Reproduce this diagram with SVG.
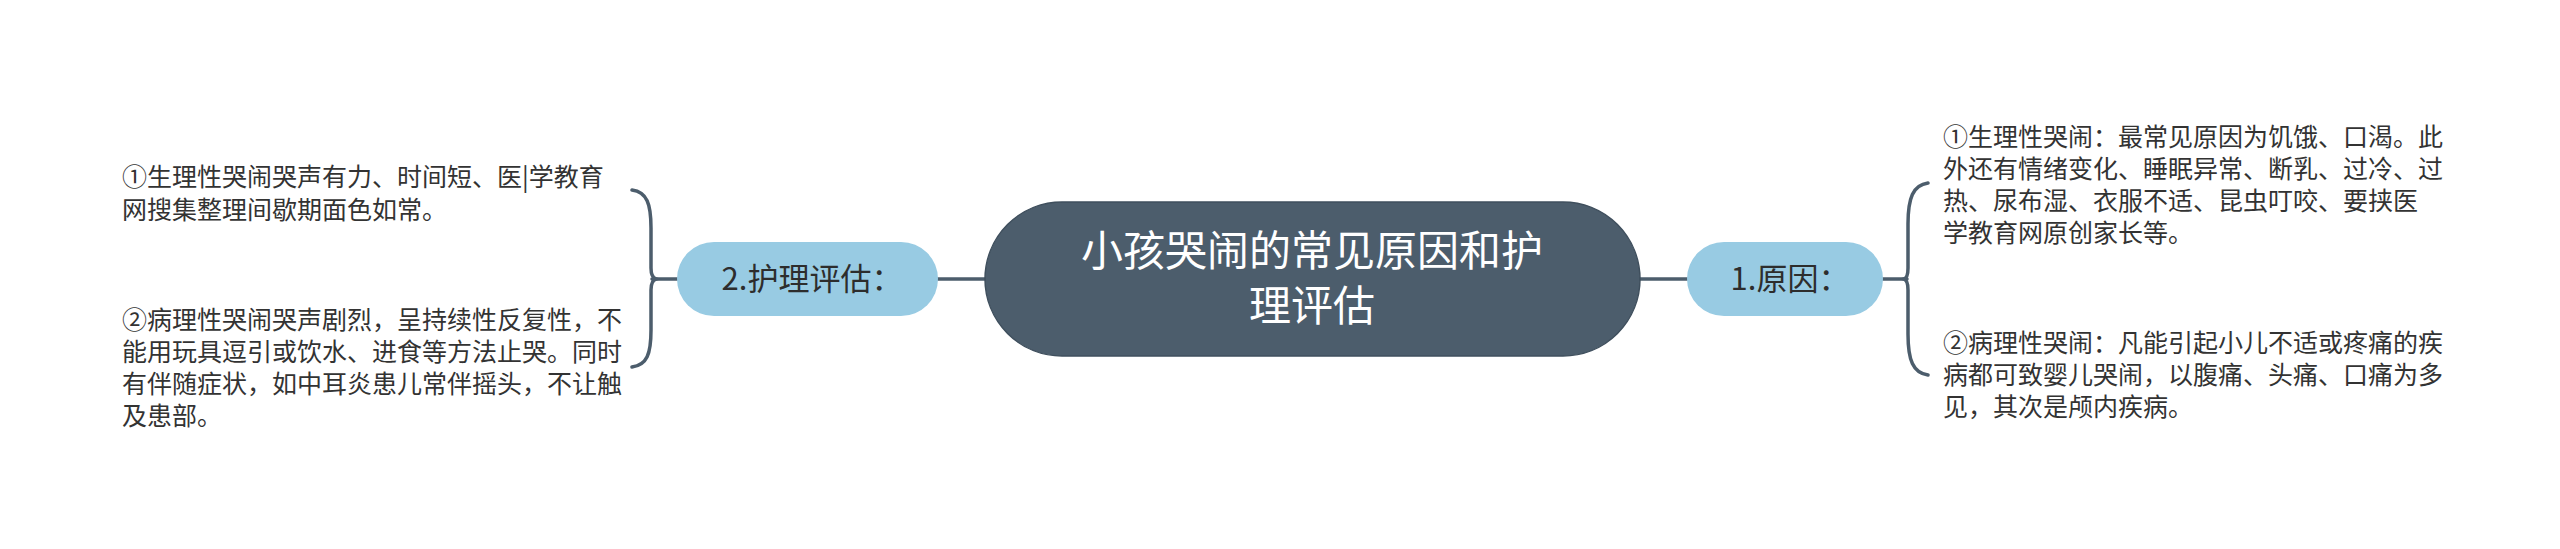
<svg xmlns="http://www.w3.org/2000/svg" width="2560" height="549" viewBox="0 0 2560 549">
<style>
text{font-family:"Noto Sans CJK SC","Noto Sans",sans-serif;}
.leaf{font-size:25px;fill:#333333;}
.pill{fill:#98cbe3;}
.pilltext{font-size:31px;fill:#2d2d2d;text-anchor:middle;}
.root{fill:#4c5d6c;stroke:#3f4f5d;stroke-width:1.5;}
.roottext{font-size:42px;fill:#ffffff;text-anchor:middle;}
.conn{fill:none;stroke:#4c5d6c;stroke-width:3.5;stroke-linecap:round;}
</style>
<rect width="2560" height="549" fill="#ffffff"/>
<g id="connectors">
<line class="conn" x1="938" y1="279" x2="986" y2="279"/>
<line class="conn" x1="1639" y1="279" x2="1687" y2="279"/>
<line class="conn" x1="652" y1="279" x2="677" y2="279"/>
<line class="conn" x1="1883" y1="279" x2="1907" y2="279"/>
<path class="conn" d="M632,190 C647,192 651,204 651,228 L651,268 C651,274 653,278 656,279 C653,280 651,284 651,290 L651,330 C651,354 647,365 632,367"/>
<path class="conn" d="M1928,183 C1913,185 1908,198 1908,224 L1908,268 C1908,274 1907,278 1904,279 C1907,280 1908,284 1908,290 L1908,334 C1908,360 1913,373 1928,375"/>
</g>
<g id="root">
<rect class="root" x="985" y="202" width="655" height="154" rx="77" ry="77"/>
<text class="roottext"><tspan x="1312" y="266">小孩哭闹的常见原因和护</tspan><tspan x="1312" y="321">理评估</tspan></text>
</g>
<g id="node-hulipinggu">
<rect class="pill" x="677" y="242" width="261" height="74" rx="37" ry="37"/>
<text class="pilltext" x="812" y="290">2.护理评估：</text>
</g>
<g id="node-yuanyin">
<rect class="pill" x="1687" y="242" width="196" height="74" rx="37" ry="37"/>
<text class="pilltext" x="1790" y="290">1.原因：</text>
</g>
<g id="leaf-left-1">
<text class="leaf"><tspan x="122" y="186">①生理性哭闹哭声有力、时间短、医|学教育</tspan><tspan x="122" y="219">网搜集整理间歇期面色如常。</tspan></text>
</g>
<g id="leaf-left-2">
<text class="leaf"><tspan x="122" y="329">②病理性哭闹哭声剧烈，呈持续性反复性，不</tspan><tspan x="122" y="361">能用玩具逗引或饮水、进食等方法止哭。同时</tspan><tspan x="122" y="393">有伴随症状，如中耳炎患儿常伴摇头，不让触</tspan><tspan x="122" y="425">及患部。</tspan></text>
</g>
<g id="leaf-right-1">
<text class="leaf"><tspan x="1943" y="146">①生理性哭闹：最常见原因为饥饿、口渴。此</tspan><tspan x="1943" y="178">外还有情绪变化、睡眠异常、断乳、过冷、过</tspan><tspan x="1943" y="210">热、尿布湿、衣服不适、昆虫叮咬、要挟医</tspan><tspan x="1943" y="242">学教育网原创家长等。</tspan></text>
</g>
<g id="leaf-right-2">
<text class="leaf"><tspan x="1943" y="352">②病理性哭闹：凡能引起小儿不适或疼痛的疾</tspan><tspan x="1943" y="384">病都可致婴儿哭闹，以腹痛、头痛、口痛为多</tspan><tspan x="1943" y="416">见，其次是颅内疾病。</tspan></text>
</g>
</svg>
